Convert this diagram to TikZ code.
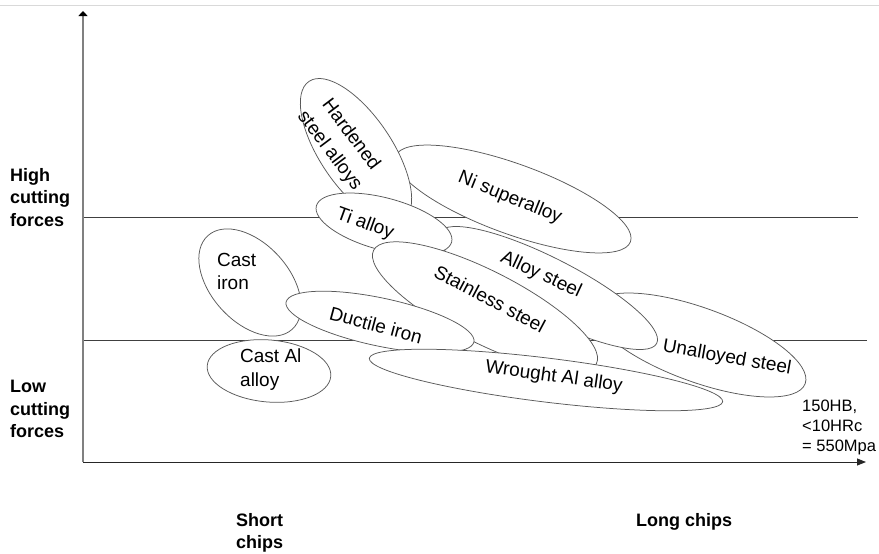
\documentclass[tikz,border=0pt]{standalone}
\usepackage{fontspec}
\setmainfont{Liberation Sans}
\usetikzlibrary{shapes.geometric,arrows.meta}
\begin{document}
\begin{tikzpicture}[x=1pt,y=-1pt,
  blob/.style={draw=black!65, fill=white, ellipse, inner sep=0pt, line width=0.75pt},
  lab/.style={font=\fontsize{19}{23.5}\selectfont, inner sep=0pt},
  sidelab/.style={font=\bfseries\fontsize{18}{22.5}\selectfont, align=left, inner sep=0pt, anchor=north west},
  note/.style={font=\fontsize{16.5}{20}\selectfont, align=left, inner sep=0pt, anchor=north west},
  guide/.style={draw=black!75, line width=0.75pt}]
\useasboundingbox (0,0) rectangle (879,554);
% top border
\coordinate (tl) at (0,5.5);
\coordinate (tr) at (879,5.5);
\draw[black!15, line width=1.5pt] (tl) -- (tr);
% guide lines
\coordinate (h1a) at (83,217);
\coordinate (h1b) at (858,217);
\coordinate (h2a) at (83,340);
\coordinate (h2b) at (867,340);
\draw[guide] (h1a) -- (h1b);
\draw[guide] (h2a) -- (h2b);
% axes
\coordinate (O) at (83,462);
\coordinate (ytop) at (83,11);
\coordinate (xend) at (866,462);
\draw[black!50, line width=1.6pt, -{Triangle[length=5pt,width=9pt,color=black]}] (O) -- (ytop);
\draw[black!85, line width=0.9pt, -{Triangle[length=9pt,width=7pt]}] (O) -- (xend);
% ellipses
\node[blob, minimum width=226pt, minimum height=74pt, rotate=-20] (unal) at (699,345) {};
\node[blob, minimum width=244pt, minimum height=60pt, rotate=-27] (alloy) at (548,288) {};
\node[blob, minimum width=250pt, minimum height=70pt, rotate=-20] (ni) at (513,199) {};
\node[blob, minimum width=168pt, minimum height=72pt, rotate=-56] (hard) at (356,151) {};
\node[blob, minimum width=140pt, minimum height=52pt, rotate=-15] (ti) at (384,224) {};
\node[blob, minimum width=250pt, minimum height=72pt, rotate=-27] (stain) at (485,307) {};
\node[blob, minimum width=126pt, minimum height=78pt, rotate=-48] (castiron) at (250,282.5) {};
\node[blob, minimum width=192pt, minimum height=48pt, rotate=-12] (ductile) at (380,322) {};
\node[blob, minimum width=124pt, minimum height=62pt, rotate=-5] (castal) at (269,371) {};
\node[blob, minimum width=356pt, minimum height=44pt, rotate=-7] (wrought) at (546,380) {};
% labels
\node[lab, rotate=-53, align=center] (thard) at (340,143) {Hardened\\[3pt]steel alloys};
\node[lab, rotate=-22] (tni) at (510,198) {Ni superalloy};
\node[lab, rotate=-20] (tti) at (365,224) {Ti alloy};
\node[lab, align=left, anchor=north west] (tci) at (217,253) {Cast\\iron};
\node[lab, align=left, anchor=north west] (tca) at (240,349) {Cast Al\\alloy};
\node[lab, rotate=-15] (tdi) at (376,325) {Ductile iron};
\node[lab, rotate=-25] (tal) at (541,275) {Alloy steel};
\node[lab, rotate=-28] (tss) at (490,299) {Stainless steel};
\node[lab, rotate=-8] (twa) at (554,377) {Wrought Al alloy};
\node[lab, rotate=-10] (tun) at (727,358) {Unalloyed steel};
% side labels
\node[sidelab] (high) at (10,168) {High\\cutting\\forces};
\node[sidelab] (low) at (10,380) {Low\\cutting\\forces};
\node[sidelab] (short) at (236,513) {Short\\chips};
\node[sidelab] (long) at (636,513) {Long chips};
\node[note] (hb) at (802,400) {150HB,\\<10HRc\\= 550Mpa};
\end{tikzpicture}
\end{document}
